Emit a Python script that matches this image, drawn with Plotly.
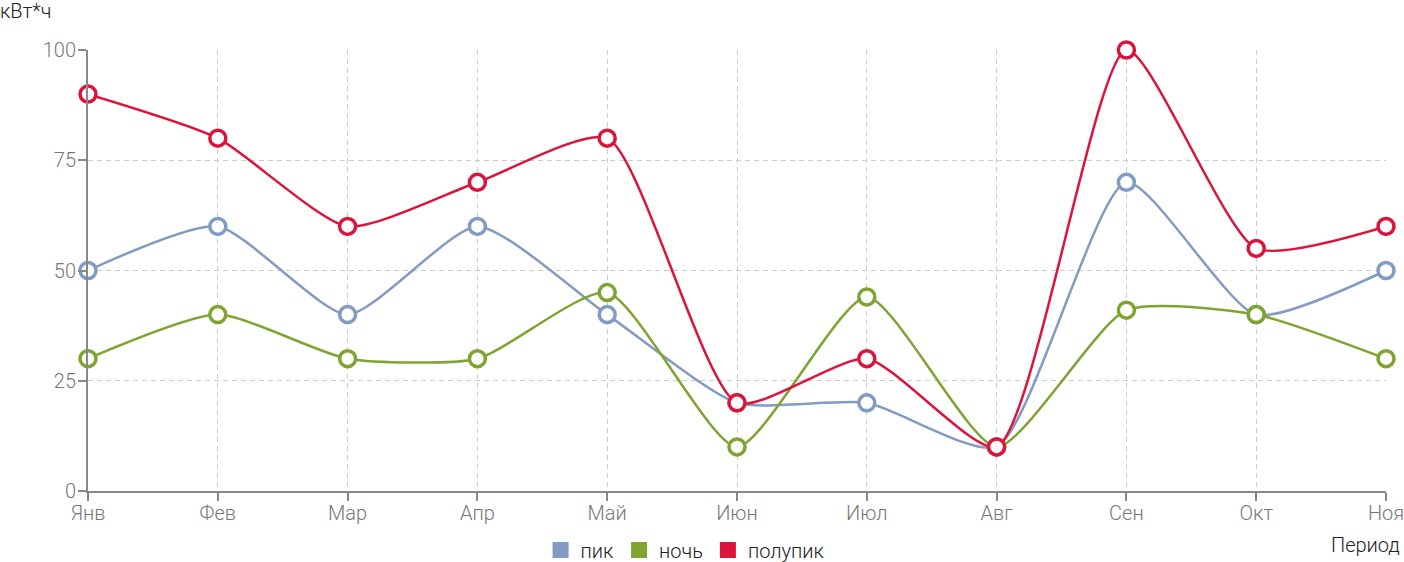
import plotly.graph_objects as go

months = ["Янв", "Фев", "Мар", "Апр", "Май", "Июн", "Июл", "Авг", "Сен", "Окт", "Ноя"]
pik = [50, 60, 40, 60, 40, 20, 20, 10, 70, 40, 50]
noch = [30, 40, 30, 30, 45, 10, 44, 10, 41, 40, 30]
polupik = [90, 80, 60, 70, 80, 20, 30, 10, 100, 55, 60]
y_ticks = [0, 25, 50, 75, 100]

series = [("пик", pik, "#829BC2"), ("ночь", noch, "#7FA432"), ("полупик", polupik, "#DC143C")]

fig = go.Figure()
x_idx = list(range(len(months)))
for name, vals, col in series:
    fig.add_trace(go.Scatter(
        x=x_idx, y=vals, mode="lines+markers", name=name, showlegend=False,
        line=dict(color=col, width=2.5, shape="spline", smoothing=0.6),
        marker=dict(size=16, color="white", line=dict(color=col, width=3.5)),
        cliponaxis=False,
    ))
for name, vals, col in series:
    fig.add_trace(go.Scatter(
        x=[None], y=[None], mode="markers", name=name,
        marker=dict(symbol="square", size=20, color=col),
    ))

axis_common = dict(
    showline=True, linecolor="#888", linewidth=2,
    ticks="outside", ticklen=8, tickwidth=2, tickcolor="#888",
    showgrid=True, gridcolor="#cccccc", griddash="5px,4px", gridwidth=1,
    zeroline=False, automargin=False,
    tickfont=dict(family="Roboto", size=20, color="#777777", weight=300),
)
fig.update_xaxes(**axis_common, range=[0, 10], tickmode="array", tickvals=x_idx, ticktext=months,
                 ticklabeloverflow="allow", ticklabelstandoff=-5)
fig.update_yaxes(**axis_common, range=[0, 100], tickmode="array", tickvals=y_ticks,
                 ticklabelstandoff=-2)

fig.update_layout(
    width=1404, height=562,
    margin=dict(l=88, r=18, t=50, b=71, autoexpand=False),
    plot_bgcolor="white", paper_bgcolor="white",
    font=dict(family="Roboto", size=20, color="#222", weight=300),
    legend=dict(orientation="h", x=0.46, xanchor="center", y=-0.134, yanchor="middle",
                font=dict(family="Roboto", size=20, color="#222", weight=300), itemsizing="trace",
                itemwidth=30, tracegroupgap=0),
    annotations=[
        dict(text="кВт*ч", x=0, y=1.0, xref="paper", yref="paper", showarrow=False,
             xanchor="left", yanchor="bottom", xshift=-90, yshift=25,
             font=dict(family="Roboto", size=20, color="#222", weight=300)),
        dict(text="Период", x=1, y=0, xref="paper", yref="paper", showarrow=False,
             xanchor="right", yanchor="top", xshift=16, yshift=-40,
             font=dict(family="Roboto", size=20, color="#222", weight=300)),
    ],
)

fig.write_html("out.html", config={"displayModeBar": False},
               post_script="document.body.style.margin='0';document.body.style.overflow='hidden';")
